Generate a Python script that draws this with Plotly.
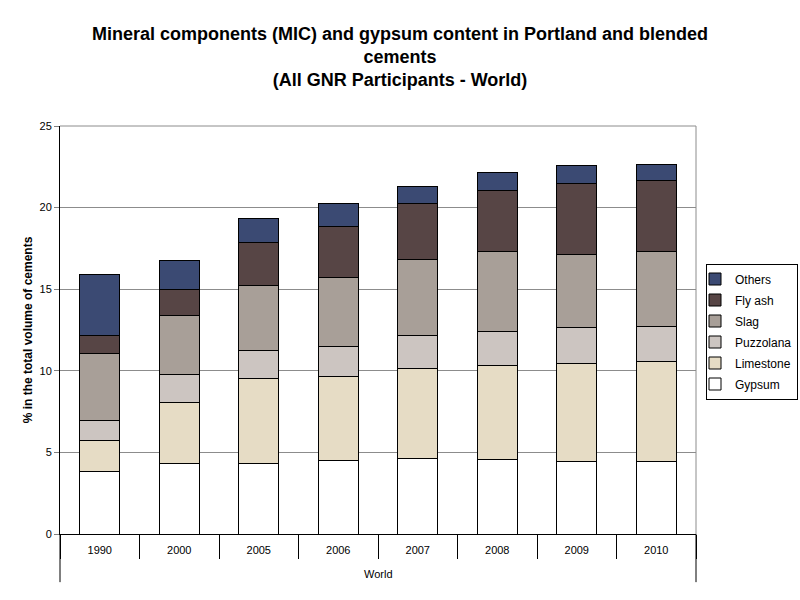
import plotly.graph_objects as go

years = ["1990", "2000", "2005", "2006", "2007", "2008", "2009", "2010"]
gypsum    = [3.86, 4.29, 4.33, 4.52, 4.64, 4.58, 4.45, 4.45]
limestone = [1.88, 3.78, 5.21, 5.14, 5.51, 5.76, 6.01, 6.13]
puzzolana = [1.22, 1.71, 1.72, 1.84, 2.02, 2.08, 2.21, 2.15]
slag      = [4.11, 3.62, 3.98, 4.23, 4.66, 4.90, 4.47, 4.59]
fly_ash   = [1.10, 1.59, 2.63, 3.12, 3.43, 3.74, 4.35, 4.35]
others    = [3.74, 1.78, 1.47, 1.41, 1.04, 1.10, 1.10, 0.98]

series = [
    ("Gypsum", gypsum, "#FFFFFF"),
    ("Limestone", limestone, "#E6DCC5"),
    ("Puzzolana", puzzolana, "#CCC5C1"),
    ("Slag", slag, "#A89F98"),
    ("Fly ash", fly_ash, "#574545"),
    ("Others", others, "#3B4A73"),
]

FONT = "Liberation Sans, Arial, sans-serif"

fig = go.Figure()
n = len(series)
for i, (name, vals, color) in enumerate(series):
    fig.add_trace(go.Bar(
        x=years, y=vals, name=name, legendgroup=name, legendrank=n - i,
        marker=dict(color=color, line=dict(color="#000000", width=1)),
    ))

fig.update_layout(
    template="none",
    width=800, height=600,
    barmode="stack", bargap=0.5,
    paper_bgcolor="white", plot_bgcolor="white",
    margin=dict(l=60, r=104, t=126, b=66, pad=0),
    font=dict(family=FONT, size=11, color="black"),
    title=dict(
        text="<b>Mineral components (MIC) and gypsum content in Portland and blended<br>cements<br>(All GNR Participants - World)</b>",
        x=0.5, xanchor="center", xref="container",
        y=0.934, yanchor="top", yref="container",
        font=dict(family=FONT, size=18, color="black"),
    ),
    legend=dict(
        traceorder="grouped",
        xref="container", yref="container",
        x=0.8825, xanchor="left", y=0.4475, yanchor="middle",
        bordercolor="black", borderwidth=1, bgcolor="white",
        font=dict(family=FONT, size=12, color="black"),
        indentation=-12, tracegroupgap=2, itemwidth=30,
    ),
    showlegend=True,
)

fig.update_xaxes(
    type="category", range=[-0.5, 7.5], automargin=False,
    showline=True, linecolor="black", linewidth=1,
    ticks="outside", tickson="boundaries", ticklen=24, tickcolor="black", tickwidth=1,
    ticklabelstandoff=6,
    tickfont=dict(family=FONT, size=11, color="black"),
    showgrid=False, zeroline=False,
)
fig.update_yaxes(
    range=[0, 25], dtick=5, automargin=False,
    showline=True, linecolor="black", linewidth=1,
    ticks="outside", ticklen=5, tickcolor="#808080", tickwidth=1,
    showgrid=True, gridcolor="#8C8C8C", gridwidth=1,
    zeroline=False,
    tickfont=dict(family=FONT, size=11, color="black"),
    title=dict(text="<b>% in the total volume of cements</b>",
               font=dict(family=FONT, size=12, color="black"), standoff=4),
)

# outer group label below the year labels
fig.add_annotation(text="World", xref="paper", yref="paper", x=0.5, y=-0.098,
                   xanchor="center", yanchor="middle", showarrow=False,
                   font=dict(family=FONT, size=11, color="black"))

# plot-area border (top and right), and outer group dividers below the axis
fig.add_shape(type="line", xref="paper", yref="paper", x0=1, x1=1, y0=0, y1=1,
              line=dict(color="#8C8C8C", width=1))
fig.add_shape(type="line", xref="paper", yref="paper", x0=0, x1=1, y0=1, y1=1,
              line=dict(color="#8C8C8C", width=1))
for xp in (0, 1):
    fig.add_shape(type="line", xref="paper", yref="paper", x0=xp, x1=xp, y0=0, y1=-0.118,
                  line=dict(color="black", width=1))

fig.write_html("out.html", config={"displayModeBar": False},
               post_script="document.body.style.margin='0px';")
